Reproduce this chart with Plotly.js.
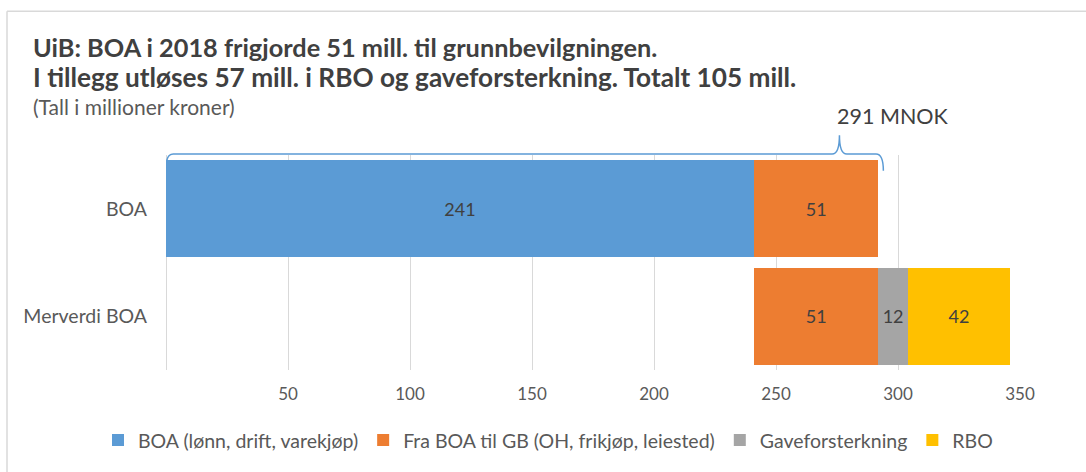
<!DOCTYPE html>
<html>
<head>
<meta charset="utf-8">
<script src="https://cdn.plot.ly/plotly-3.0.1.min.js"></script>
<style>
  html, body { margin: 0; padding: 0; background: #ffffff; }
  #chart { width: 1086px; height: 472px; }
</style>
</head>
<body>
<div id="chart"></div>
<script>
// ---- Data ----
const categories = ['BOA', 'Merverdi BOA'];
const offsetValues = [0, 241];            // invisible start offset for "Merverdi BOA"
const boaDrift = [241, null];              // BOA (lønn, drift, varekjøp)
const fraBoaTilGb = [51, 51];              // Fra BOA til GB (OH, frikjøp, leiested)
const gaveforsterkning = [null, 12];       // Gaveforsterkning
const rbo = [null, 42];                    // RBO
const tickValues = [50, 100, 150, 200, 250, 300, 350];
const totalLabel = '291 MNOK';

const seriesNames = [
  'BOA (lønn, drift, varekjøp)',
  'Fra BOA til GB (OH, frikjøp, leiested)',
  'Gaveforsterkning',
  'RBO'
];
const colors = ['#5B9BD5', '#ED7D31', '#A5A5A5', '#FFC000'];

// ---- Layout helpers (pixel geometry) ----
const W = 1086, H = 472;
const M = { l: 166, r: 66, t: 155, b: 100 };
const pw = W - M.l - M.r, ph = H - M.t - M.b;
const px2paperX = px => (px - M.l) / pw;
const py2paperY = py => (H - M.b - py) / ph;

const font = 'Lato, "Open Sans", sans-serif';
const textCol = '#404040';

function barTrace(vals, i) {
  return {
    type: 'bar', orientation: 'h',
    y: categories, x: vals,
    name: seriesNames[i],
    marker: { color: colors[i], line: { width: 0 } },
    texttemplate: '%{x}',
    textposition: 'inside',
    insidetextanchor: 'middle',
    textangle: 0,
    constraintext: 'none',
    textfont: { family: font, size: 18, color: textCol },
    hoverinfo: 'x+name'
  };
}

const data = [
  {
    type: 'bar', orientation: 'h',
    y: categories, x: offsetValues,
    marker: { color: 'rgba(0,0,0,0)' },
    showlegend: false, hoverinfo: 'skip'
  },
  barTrace(boaDrift, 0),
  barTrace(fraBoaTilGb, 1),
  barTrace(gaveforsterkning, 2),
  barTrace(rbo, 3)
];

// brace geometry (in data x, paper y)
const bx0 = 0, bx1 = 294, bpeak = 276, d = 3;
const yLow = py2paperY(168), yMid = py2paperY(154), yTop = py2paperY(135);
const yLowR = py2paperY(171);
const bracePath =
  `M ${bx0},${yLow} Q ${bx0},${yMid} ${bx0 + d},${yMid} ` +
  `L ${bpeak - d},${yMid} Q ${bpeak},${yMid} ${bpeak},${yTop} ` +
  `Q ${bpeak},${yMid} ${bpeak + d},${yMid} ` +
  `L ${bx1 - d},${yMid} Q ${bx1},${yMid} ${bx1},${yLowR}`;

const layout = {
  width: W, height: H,
  margin: M,
  paper_bgcolor: '#ffffff',
  plot_bgcolor: '#ffffff',
  barmode: 'stack',
  bargap: 0.1,
  font: { family: font, color: '#595959', size: 17 },
  showlegend: true,
  legend: {
    orientation: 'h',
    xref: 'paper', yref: 'paper',
    x: px2paperX(98), xanchor: 'left',
    y: py2paperY(443), yanchor: 'middle',
    font: { family: font, size: 19.5, color: '#595959' },
    traceorder: 'normal',
    itemwidth: 30
  },
  xaxis: {
    range: [0, 350],
    tickvals: tickValues,
    ticktext: tickValues.map(String),
    showgrid: true,
    gridcolor: '#D9D9D9',
    gridwidth: 1,
    zeroline: true,
    zerolinecolor: '#D9D9D9',
    zerolinewidth: 1,
    showline: false,
    ticks: '',
    ticklabelstandoff: 12,
    tickfont: { family: font, size: 17, color: '#595959' },
    fixedrange: true
  },
  yaxis: {
    type: 'category',
    autorange: 'reversed',
    showgrid: false,
    zeroline: false,
    showline: false,
    ticks: '',
    ticklabelstandoff: 18,
    tickfont: { family: font, size: 19.5, color: '#595959' },
    fixedrange: true
  },
  shapes: [
    // outer chart border (top and left edges visible)
    { type: 'line', xref: 'paper', yref: 'paper',
      x0: px2paperX(7), x1: px2paperX(1090), y0: py2paperY(10), y1: py2paperY(10),
      line: { color: '#D9D9D9', width: 1.5 } },
    { type: 'line', xref: 'paper', yref: 'paper',
      x0: px2paperX(7), x1: px2paperX(7), y0: py2paperY(10), y1: py2paperY(480),
      line: { color: '#D9D9D9', width: 1.5 } },
    // curly brace over the BOA bar
    { type: 'path', xref: 'x', yref: 'paper', path: bracePath,
      line: { color: '#5B9BD5', width: 1.5 }, layer: 'above' }
  ],
  annotations: [
    { xref: 'paper', yref: 'paper', x: px2paperX(31), y: py2paperY(46),
      xanchor: 'left', yanchor: 'middle', showarrow: false,
      text: '<b>UiB: BOA i 2018 frigjorde 51 mill. til grunnbevilgningen.</b>',
      font: { family: font, size: 25.3, color: textCol } },
    { xref: 'paper', yref: 'paper', x: px2paperX(31), y: py2paperY(76),
      xanchor: 'left', yanchor: 'middle', showarrow: false,
      text: '<b>I tillegg utløses 57 mill. i RBO og gaveforsterkning. Totalt 105 mill.</b>',
      font: { family: font, size: 26.2, color: textCol } },
    { xref: 'paper', yref: 'paper', x: px2paperX(31), y: py2paperY(106),
      xanchor: 'left', yanchor: 'middle', showarrow: false,
      text: '(Tall i millioner kroner)',
      font: { family: font, size: 21, color: '#595959' } },
    { xref: 'x', yref: 'paper', x: 298, y: py2paperY(116),
      xanchor: 'center', yanchor: 'middle', showarrow: false,
      text: totalLabel,
      font: { family: font, size: 21.5, color: textCol } }
  ]
};

Plotly.newPlot('chart', data, layout, { displayModeBar: false, staticPlot: true });
</script>
</body>
</html>
